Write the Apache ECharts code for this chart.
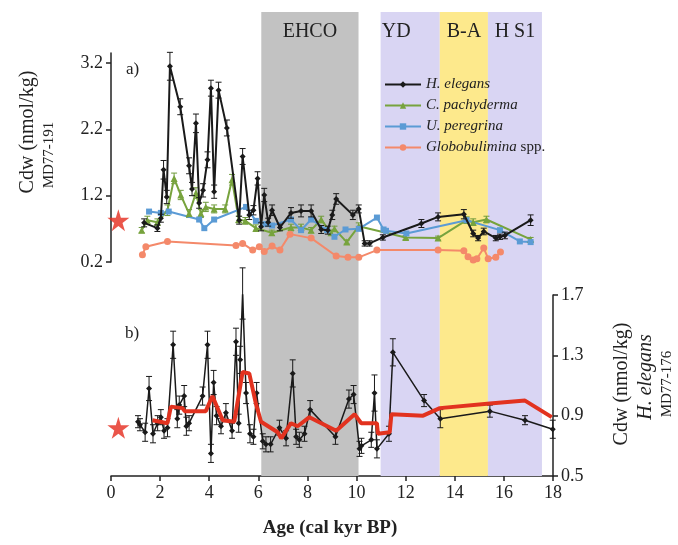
<!DOCTYPE html>
<html>
<head>
<meta charset="utf-8">
<script src="https://cdn.jsdelivr.net/npm/echarts@6/dist/echarts.min.js"></script>
<style>
  html, body { margin: 0; padding: 0; background: #fff; }
  #main { width: 678px; height: 545px; }
</style>
</head>
<body>
<div id="main"></div>
<script>
// MD77-191 (panel a), age in cal kyr BP
const helegAge = [1.35, 1.89, 2.03, 2.14, 2.27, 2.40, 2.82, 3.18, 3.30, 3.46, 3.59, 3.75, 3.93, 4.07, 4.20, 4.38, 4.72, 5.22, 5.36, 5.63, 5.80, 5.97, 6.11, 6.24, 6.40, 6.56, 6.88, 7.33, 7.74, 8.15, 8.56, 8.83, 9.01, 9.17, 9.85, 10.09, 10.33, 10.53, 11.07, 12.64, 13.32, 14.37, 14.75, 14.95, 15.18, 15.67, 15.84, 16.04, 17.09]
const helegCd = [0.79, 0.71, 0.86, 1.59, 1.18, 3.15, 2.54, 1.65, 1.30, 2.29, 1.09, 1.28, 1.74, 2.82, 1.26, 2.79, 2.22, 0.83, 1.79, 0.91, 0.98, 1.46, 0.73, 1.21, 0.80, 0.98, 0.72, 0.94, 0.97, 0.97, 0.69, 0.68, 0.91, 1.15, 0.91, 1.00, 0.48, 0.48, 0.57, 0.78, 0.88, 0.92, 0.63, 0.56, 0.66, 0.56, 0.58, 0.60, 0.83]
const helegErr = [0.06, 0.05, 0.06, 0.14, 0.10, 0.21, 0.12, 0.12, 0.10, 0.14, 0.08, 0.10, 0.12, 0.12, 0.10, 0.12, 0.12, 0.06, 0.12, 0.07, 0.07, 0.10, 0.06, 0.10, 0.06, 0.08, 0.05, 0.08, 0.09, 0.09, 0.06, 0.06, 0.07, 0.08, 0.07, 0.06, 0.04, 0.04, 0.04, 0.06, 0.06, 0.07, 0.05, 0.04, 0.05, 0.04, 0.04, 0.05, 0.08]

const cpachAge = [1.25, 1.48, 1.89, 2.30, 2.57, 2.84, 3.18, 3.46, 3.66, 3.86, 4.20, 4.65, 4.93, 5.20, 5.47, 5.90, 6.55, 7.33, 7.74, 8.15, 8.56, 8.96, 9.10, 9.60, 10.09, 12.00, 13.32, 14.48, 14.75, 15.29, 17.09]
const cpachCd = [0.68, 0.83, 0.80, 0.98, 1.46, 1.21, 0.93, 1.24, 0.93, 1.03, 1.00, 1.00, 1.44, 0.84, 0.82, 0.71, 0.64, 0.72, 0.72, 0.68, 0.84, 0.64, 0.70, 0.50, 0.74, 0.57, 0.56, 0.83, 0.80, 0.84, 0.54]
const cpachErr = [0.04, 0.06, 0.05, 0.08, 0.08, 0.07, 0.06, 0.08, 0.06, 0.07, 0.06, 0.06, 0.08, 0.05, 0.05, 0.05, 0.04, 0.05, 0.05, 0.04, 0.05, 0.04, 0.04, 0.03, 0.05, 0.03, 0.03, 0.05, 0.05, 0.05, 0.03]

const uperAge = [1.55, 2.03, 2.35, 3.59, 3.80, 4.20, 5.50, 5.90, 6.30, 6.56, 7.33, 7.74, 8.15, 8.80, 9.10, 9.55, 10.09, 10.83, 11.10, 11.20, 12.03, 14.48, 15.84, 16.65, 17.09]
const uperCd = [0.96, 0.94, 0.96, 0.84, 0.71, 0.84, 1.03, 0.82, 0.77, 0.75, 0.84, 0.68, 0.84, 0.68, 0.58, 0.69, 0.70, 0.87, 0.69, 0.67, 0.63, 0.83, 0.68, 0.51, 0.50]

const globAge = [1.28, 1.42, 2.30, 5.09, 5.36, 5.77, 6.04, 6.24, 6.56, 6.88, 7.29, 8.15, 9.17, 9.65, 10.09, 10.83, 13.32, 14.37, 14.54, 14.75, 14.90, 15.18, 15.36, 15.67, 15.86]
const globCd = [0.31, 0.43, 0.51, 0.45, 0.48, 0.38, 0.43, 0.36, 0.44, 0.38, 0.62, 0.56, 0.29, 0.27, 0.27, 0.38, 0.38, 0.37, 0.28, 0.23, 0.25, 0.41, 0.25, 0.27, 0.35]

// MD77-176 (panel b), H. elegans
const md176Age = [1.10, 1.18, 1.39, 1.55, 1.71, 1.90, 2.03, 2.16, 2.30, 2.53, 2.70, 2.78, 2.98, 3.07, 3.18, 3.73, 3.93, 4.07, 4.18, 4.30, 4.48, 4.68, 4.93, 5.09, 5.20, 5.26, 5.36, 5.50, 5.66, 5.80, 5.93, 6.18, 6.31, 6.50, 6.86, 7.13, 7.40, 7.54, 7.67, 7.88, 8.11, 9.14, 9.69, 9.88, 10.12, 10.20, 10.60, 10.73, 10.83, 11.32, 11.48, 12.75, 13.41, 15.43, 16.86, 17.99]
const md176Cd = [0.86, 0.84, 0.79, 1.08, 0.78, 0.85, 0.89, 0.80, 0.82, 1.37, 0.88, 0.97, 1.03, 0.83, 0.85, 1.03, 1.37, 0.65, 1.12, 0.90, 0.83, 0.92, 0.80, 1.39, 0.85, 1.27, 1.71, 1.05, 0.78, 0.76, 1.05, 0.73, 0.71, 0.71, 0.82, 0.75, 1.18, 0.76, 0.74, 0.78, 0.94, 0.76, 1.01, 1.04, 0.68, 0.70, 0.74, 1.05, 0.68, 0.78, 1.32, 1.00, 0.88, 0.93, 0.87, 0.81]
const md176Err = [0.04, 0.04, 0.06, 0.08, 0.06, 0.05, 0.05, 0.05, 0.06, 0.09, 0.06, 0.06, 0.07, 0.06, 0.05, 0.06, 0.09, 0.06, 0.08, 0.06, 0.05, 0.06, 0.05, 0.09, 0.06, 0.09, 0.17, 0.07, 0.06, 0.05, 0.07, 0.05, 0.05, 0.05, 0.05, 0.05, 0.09, 0.05, 0.05, 0.05, 0.06, 0.05, 0.06, 0.06, 0.05, 0.05, 0.05, 0.12, 0.06, 0.05, 0.09, 0.04, 0.06, 0.04, 0.03, 0.06]

// smoothed record (red)
const smoothAge = [1.69, 2.30, 2.44, 2.91, 3.00, 3.59, 3.86, 4.13, 4.55, 5.02, 5.36, 5.63, 5.90, 6.11, 6.79, 6.93, 7.33, 7.60, 8.08, 9.17, 9.92, 10.19, 10.83, 10.87, 11.35, 11.42, 12.71, 13.39, 15.43, 16.86, 17.95]
const smoothCd = [0.87, 0.85, 0.96, 0.95, 0.93, 0.93, 0.93, 1.03, 0.87, 0.86, 1.19, 1.18, 0.98, 0.86, 0.79, 0.75, 0.85, 0.83, 0.89, 0.80, 0.91, 0.85, 0.85, 0.78, 0.79, 0.91, 0.90, 0.95, 0.98, 1.00, 0.89]

// climate periods
const periodNames = ['EHCO', 'YD', 'B-A', 'H S1']
const periodStart = [6.12, 10.98, 13.39, 15.35]
const periodEnd = [10.08, 13.39, 15.35, 17.55]
const periodColors = ['#c2c2c2', '#d9d5f3', '#fde98c', '#d9d5f3']

const topTicks = [0.2, 1.2, 2.2, 3.2]
const botTicks = [0.5, 0.9, 1.3, 1.7]
const ageTicks = [0, 2, 4, 6, 8, 10, 12, 14, 16, 18]
const modernCd = [0.83, 0.82] // stars, core top

const serif = "'Liberation Serif', 'DejaVu Serif', serif"
const star = 'path://M50,0 L61,35 L98,35 L68,57 L79,91 L50,70 L21,91 L32,57 L2,35 L39,35 Z'

const zip = (a, b) => a.map((v, i) => [v, b[i]])
const errData = (a, b, e) => a.map((v, i) => [v, b[i] - e[i], b[i] + e[i]])

function errorBars (color) {
  return function (params, api) {
    const lo = api.coord([api.value(0), api.value(1)])
    const hi = api.coord([api.value(0), api.value(2)])
    const w = 3
    const style = { stroke: color, lineWidth: 1 }
    return {
      type: 'group',
      children: [
        { type: 'line', shape: { x1: lo[0], y1: lo[1], x2: hi[0], y2: hi[1] }, style },
        { type: 'line', shape: { x1: lo[0] - w, y1: lo[1], x2: lo[0] + w, y2: lo[1] }, style },
        { type: 'line', shape: { x1: hi[0] - w, y1: hi[1], x2: hi[0] + w, y2: hi[1] }, style }
      ]
    }
  }
}

const myChart = echarts.init(document.getElementById('main'))

const bandData = periodNames.map((name, i) => {
  return [
    {
      name: name,
      xAxis: periodStart[i],
      itemStyle: { color: periodColors[i] },
      label: { offset: i === 1 ? [-14, 0] : [0, 0] }
    },
    { xAxis: periodEnd[i] }
  ]
})

const option = {
  animation: false,
  textStyle: { fontFamily: serif },
  grid: [
    { left: 111, right: 125, top: 53, height: 209 },
    { left: 111, right: 125, top: 295, height: 181 },
    { left: 111, right: 125, top: 12, bottom: 69 }
  ],
  legend: {
    orient: 'vertical',
    left: 379,
    top: 72,
    itemWidth: 36,
    itemHeight: 8,
    itemGap: 6,
    data: ['H. elegans', 'C. pachyderma', 'U. peregrina', 'Globobulimina spp.'],
    formatter: (name) => {
      if (name === 'Globobulimina spp.') return '{i|Globobulimina} {n|spp.}'
      return '{i|' + name + '}'
    },
    textStyle: {
      fontFamily: serif,
      fontSize: 15,
      color: '#222',
      rich: {
        i: { fontFamily: serif, fontSize: 15, fontStyle: 'italic', color: '#222' },
        n: { fontFamily: serif, fontSize: 15, color: '#222' }
      }
    }
  },
  xAxis: [
    { gridIndex: 0, type: 'value', min: 0, max: 18, show: false },
    {
      gridIndex: 1,
      type: 'value',
      min: 0,
      max: 18,
      interval: 2,
      axisLine: { onZero: false, lineStyle: { color: '#222', width: 1.5 } },
      axisTick: { length: 5, lineStyle: { color: '#222', width: 1.5 } },
      axisLabel: { fontFamily: serif, fontSize: 18, color: '#222', margin: 8, customValues: ageTicks },
      splitLine: { show: false }
    },
    { gridIndex: 2, type: 'value', min: 0, max: 18, show: false }
  ],
  yAxis: [
    {
      gridIndex: 0,
      type: 'value',
      min: 0.2,
      max: 3.35,
      axisLine: { show: true, onZero: false, lineStyle: { color: '#222', width: 1.5 } },
      axisTick: { show: true, length: 5, customValues: topTicks, lineStyle: { color: '#222', width: 1.5 } },
      axisLabel: { fontFamily: serif, fontSize: 18, color: '#222', customValues: topTicks, formatter: (v) => v.toFixed(1) },
      splitLine: { show: false }
    },
    {
      gridIndex: 1,
      type: 'value',
      position: 'right',
      min: 0.5,
      max: 1.7,
      axisLine: { show: true, onZero: false, lineStyle: { color: '#222', width: 1.5 } },
      axisTick: { show: true, length: 5, customValues: botTicks, lineStyle: { color: '#222', width: 1.5 } },
      axisLabel: { fontFamily: serif, fontSize: 18, color: '#222', customValues: botTicks, formatter: (v) => v.toFixed(1) },
      splitLine: { show: false }
    },
    { gridIndex: 2, type: 'value', min: 0, max: 1, show: false }
  ],
  graphic: [
    { type: 'text', left: 126, top: 61, style: { text: 'a)', font: '17px ' + serif, fill: '#222' } },
    { type: 'text', left: 125, top: 325, style: { text: 'b)', font: '17px ' + serif, fill: '#222' } },
    { type: 'text', x: 28, y: 132, rotation: Math.PI / 2, style: { text: 'Cdw (nmol/kg)', font: '20px ' + serif, fill: '#222', align: 'center', verticalAlign: 'middle' } },
    { type: 'text', x: 49, y: 155, rotation: Math.PI / 2, style: { text: 'MD77-191', font: '15px ' + serif, fill: '#222', align: 'center', verticalAlign: 'middle' } },
    { type: 'text', x: 622, y: 384, rotation: Math.PI / 2, style: { text: 'Cdw (nmol/kg)', font: '20px ' + serif, fill: '#222', align: 'center', verticalAlign: 'middle' } },
    { type: 'text', x: 646, y: 377, rotation: Math.PI / 2, style: { text: 'H. elegans', font: 'italic 20px ' + serif, fill: '#222', align: 'center', verticalAlign: 'middle' } },
    { type: 'text', x: 667, y: 384, rotation: Math.PI / 2, style: { text: 'MD77-176', font: '15px ' + serif, fill: '#222', align: 'center', verticalAlign: 'middle' } },
    { type: 'text', x: 330, y: 528, style: { text: 'Age (cal kyr BP)', font: 'bold 19px ' + serif, fill: '#222', align: 'center', verticalAlign: 'middle' } }
  ],
  series: [
    {
      name: 'periods',
      type: 'line',
      xAxisIndex: 2,
      yAxisIndex: 2,
      z: 0,
      data: [],
      markArea: {
        silent: true,
        label: { show: true, position: 'insideTop', distance: 10, fontFamily: serif, fontSize: 20, color: '#222' },
        data: bandData
      }
    },
    // panel a
    {
      type: 'custom',
      xAxisIndex: 0,
      yAxisIndex: 0,
      renderItem: errorBars('#6f9a3c'),
      data: errData(cpachAge, cpachCd, cpachErr),
      z: 3
    },
    {
      name: 'C. pachyderma',
      type: 'line',
      xAxisIndex: 0,
      yAxisIndex: 0,
      data: zip(cpachAge, cpachCd),
      symbol: 'triangle',
      symbolSize: 7,
      color: '#77a33d',
      lineStyle: { width: 2 },
      z: 3
    },
    {
      name: 'U. peregrina',
      type: 'line',
      xAxisIndex: 0,
      yAxisIndex: 0,
      data: zip(uperAge, uperCd),
      symbol: 'rect',
      symbolSize: 6,
      color: '#5b9bd5',
      lineStyle: { width: 2 },
      z: 3
    },
    {
      name: 'Globobulimina spp.',
      type: 'line',
      xAxisIndex: 0,
      yAxisIndex: 0,
      data: zip(globAge, globCd),
      symbol: 'circle',
      symbolSize: 7,
      color: '#f4896a',
      itemStyle: { color: '#f4896a', borderWidth: 0 },
      lineStyle: { width: 2 },
      z: 3
    },
    {
      type: 'custom',
      xAxisIndex: 0,
      yAxisIndex: 0,
      renderItem: errorBars('#1a1a1a'),
      data: errData(helegAge, helegCd, helegErr),
      z: 4
    },
    {
      name: 'H. elegans',
      type: 'line',
      xAxisIndex: 0,
      yAxisIndex: 0,
      data: zip(helegAge, helegCd),
      symbol: 'diamond',
      symbolSize: 6,
      color: '#1a1a1a',
      lineStyle: { width: 2 },
      z: 4
    },
    {
      type: 'scatter',
      xAxisIndex: 0,
      yAxisIndex: 0,
      data: [[0.3, modernCd[0]]],
      symbol: star,
      symbolSize: 22,
      itemStyle: { color: '#e52a1d' },
      clip: false,
      z: 5
    },
    // panel b
    {
      type: 'custom',
      xAxisIndex: 1,
      yAxisIndex: 1,
      renderItem: errorBars('#1a1a1a'),
      data: errData(md176Age, md176Cd, md176Err),
      z: 3
    },
    {
      name: 'MD77-176',
      type: 'line',
      xAxisIndex: 1,
      yAxisIndex: 1,
      data: zip(md176Age, md176Cd),
      symbol: 'diamond',
      symbolSize: 6,
      color: '#1a1a1a',
      lineStyle: { width: 1.5 },
      z: 3
    },
    {
      name: 'smooth',
      type: 'line',
      xAxisIndex: 1,
      yAxisIndex: 1,
      data: zip(smoothAge, smoothCd),
      showSymbol: false,
      color: '#e2321f',
      lineStyle: { width: 4 },
      z: 4
    },
    {
      type: 'scatter',
      xAxisIndex: 1,
      yAxisIndex: 1,
      data: [[0.3, modernCd[1]]],
      symbol: star,
      symbolSize: 22,
      itemStyle: { color: '#e52a1d' },
      clip: false,
      z: 5
    }
  ]
}

myChart.setOption(option)
</script>
</body>
</html>
